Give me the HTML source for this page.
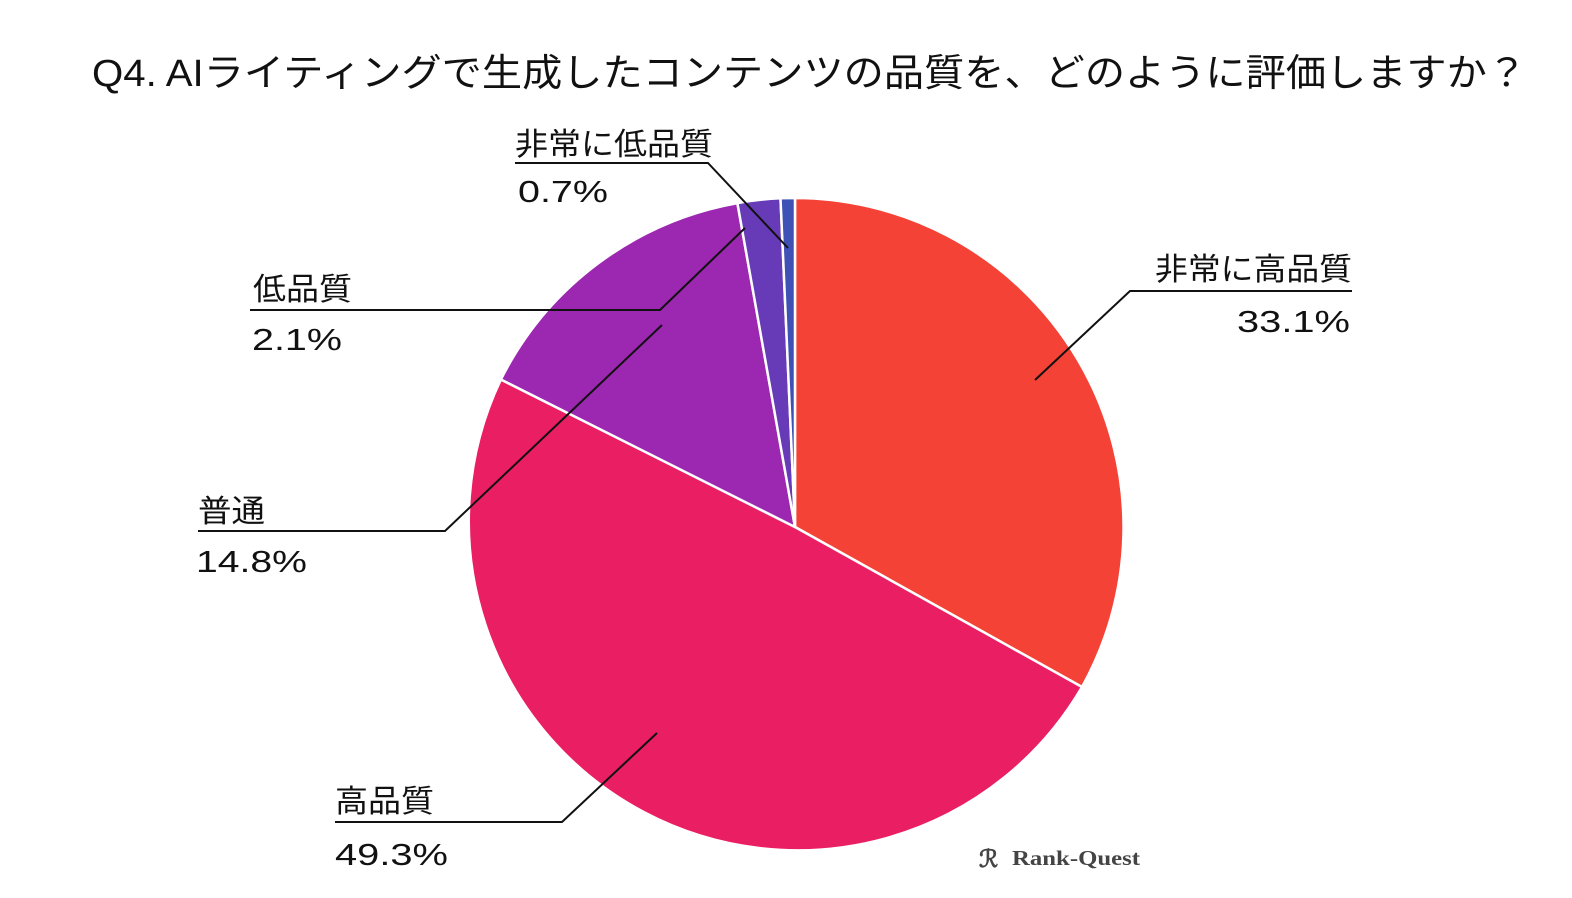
<!DOCTYPE html>
<html><head><meta charset="utf-8"><style>
html,body{margin:0;padding:0;background:#fff;}
svg{display:block;}
text{font-family:"Liberation Sans","Noto Sans CJK JP",sans-serif;fill:#111;}
</style></head><body>
<svg width="1572" height="898" viewBox="0 0 1572 898" xmlns="http://www.w3.org/2000/svg">
<rect width="1572" height="898" fill="#fff"/>
<text x="92" y="86" font-size="38" textLength="1435" lengthAdjust="spacingAndGlyphs">Q4. AIライティングで生成したコンテンツの品質を、どのように評価しますか？</text>
<g stroke="#fff" stroke-width="2.5" stroke-linejoin="round">
<path d="M795,527 L795,198 A329,329 0 0 1 1082,687 Z" fill="#F44336"/>
<path d="M795,527 L1082,687 A329,329 0 0 1 500.9,379.5 Z" fill="#E91E63"/>
<path d="M795,527 L500.9,379.5 A329,329 0 0 1 737.4,203.1 Z" fill="#9C27B0"/>
<path d="M795,527 L737.4,203.1 A329,329 0 0 1 780.5,198.3 Z" fill="#673AB7"/>
<path d="M795,527 L780.5,198.3 A329,329 0 0 1 795,198 Z" fill="#3F51B5"/>
</g>
<g stroke="#111" stroke-width="2" fill="none">
<polyline points="515,163 708,163 788,248"/>
<polyline points="250,310 660,310 745,228"/>
<polyline points="198,531 445,531 662,325"/>
<polyline points="335,822 562,822 657,733"/>
<polyline points="1352,291 1130,291 1035,380"/>
</g>
<g font-size="31" lengthAdjust="spacingAndGlyphs">
<text x="515" y="155" textLength="198" lengthAdjust="spacingAndGlyphs">非常に低品質</text>
<text x="518" y="202" textLength="90" lengthAdjust="spacingAndGlyphs">0.7%</text>
<text x="253" y="300" textLength="99" lengthAdjust="spacingAndGlyphs">低品質</text>
<text x="252" y="350" textLength="90" lengthAdjust="spacingAndGlyphs">2.1%</text>
<text x="198" y="522" textLength="67" lengthAdjust="spacingAndGlyphs">普通</text>
<text x="196" y="572" textLength="111" lengthAdjust="spacingAndGlyphs">14.8%</text>
<text x="335" y="812" textLength="99" lengthAdjust="spacingAndGlyphs">高品質</text>
<text x="335" y="865" textLength="113" lengthAdjust="spacingAndGlyphs">49.3%</text>
<text x="1155" y="280" textLength="197" lengthAdjust="spacingAndGlyphs">非常に高品質</text>
<text x="1237" y="332" textLength="113" lengthAdjust="spacingAndGlyphs">33.1%</text>
</g>
<text x="1012" y="865" font-size="21" font-weight="bold" textLength="128" lengthAdjust="spacingAndGlyphs" style="font-family:'Liberation Serif',serif;fill:#444">Rank-Quest</text>
<text x="979" y="867" font-size="24" font-weight="bold" style="font-family:'Liberation Serif',serif;fill:#444">ℛ</text>
</svg>
</body></html>
